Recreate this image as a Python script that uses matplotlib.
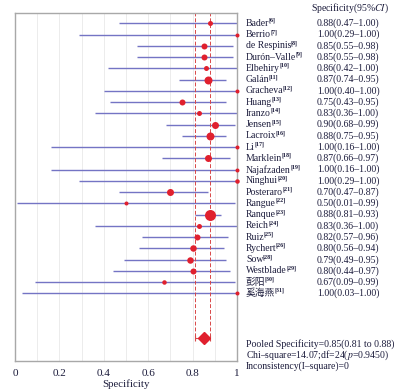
import matplotlib
matplotlib.use("Agg")
import matplotlib.pyplot as plt
import matplotlib.transforms as mtransforms
import numpy as np

plt.rcParams["font.family"] = ["Liberation Serif", "Noto Sans CJK SC"]
plt.rcParams["mathtext.fontset"] = "stix"

# ── Data ──────────────────────────────────────────────────────────────────────
studies = ["Bader", "Berrio", "de Respinis", "Durón–Valle", "Elbehiry", "Galán",
           "Gracheva", "Huang", "Iranzo", "Jensen", "Lacroix", "Li", "Marklein",
           "Najafzaden", "Ninghui", "Posteraro", "Rangue", "Ranque", "Reich",
           "Ruiz", "Rychert", "Sow", "Westblade", "彭阳", "奚海燕"]
refs = [6, 7, 8, 9, 10, 11, 12, 13, 14, 15, 16, 17, 18, 19, 20, 21, 22, 23,
        24, 25, 26, 28, 29, 30, 31]
spec = [0.88, 1.00, 0.85, 0.85, 0.86, 0.87, 1.00, 0.75, 0.83, 0.90, 0.88, 1.00,
        0.87, 1.00, 1.00, 0.70, 0.50, 0.88, 0.83, 0.82, 0.80, 0.79, 0.80, 0.67, 1.00]
ci_lo = [0.47, 0.29, 0.55, 0.55, 0.42, 0.74, 0.40, 0.43, 0.36, 0.68, 0.75, 0.16,
         0.66, 0.16, 0.29, 0.47, 0.01, 0.81, 0.36, 0.57, 0.56, 0.49, 0.44, 0.09, 0.03]
ci_hi = [1.00, 1.00, 0.98, 0.98, 1.00, 0.95, 1.00, 0.95, 1.00, 0.99, 0.95, 1.00,
         0.97, 1.00, 1.00, 0.87, 0.99, 0.93, 1.00, 0.96, 0.94, 0.95, 0.97, 0.99, 1.00]
# relative study weight
weight = [5, 4, 6, 6, 5, 8, 4, 6, 5, 7, 8, 4, 7, 4, 4.5, 7, 4, 11, 5, 6, 6.5,
          6.5, 6, 4.5, 4]

pooled, pooled_lo, pooled_hi = 0.85, 0.81, 0.88
chi2, df, pval, i2 = 14.07, 24, 0.9450, 0

# ── Style ─────────────────────────────────────────────────────────────────────
TXT = "#1c1c3c"
RED = "#e0202e"
LINE = "#7474c4"
FS = 7.0

fig = plt.figure(figsize=(4.04, 3.90), dpi=100)
ax = fig.add_axes([15 / 404, 1 - 361 / 390, 222 / 404, 348 / 390])

n = len(studies)
rows = np.arange(n)
pooled_row = n + 3

# grid
ax.set_xticks(np.arange(0, 1.01, 0.2))
ax.set_xticks(np.arange(0.1, 1.0, 0.2), minor=True)
ax.set_xticklabels(["0", "0.2", "0.4", "0.6", "0.8", "1"], fontsize=8, color=TXT)
ax.grid(True, axis="x", which="both", color="#ececec", linewidth=0.7, zorder=0)
ax.tick_params(axis="x", which="both", length=0, pad=6)
ax.set_yticks([])
for spine in ax.spines.values():
    spine.set_edgecolor("#a8a8a8")
    spine.set_linewidth(1.0)

# CI lines and points
ax.hlines(rows, ci_lo, ci_hi, color=LINE, linewidth=1.0, zorder=2)
for r, s, w in zip(rows, spec, weight):
    ax.plot(s, r, "o", color=RED, markersize=w * 0.72, markeredgewidth=0,
            zorder=3, clip_on=False)

# pooled estimate
ax.vlines([pooled_lo, pooled_hi], -1, pooled_row, color="#d84848",
          linewidth=0.7, linestyles=(0, (4, 2)), zorder=2)
ax.errorbar(pooled, pooled_row, xerr=[[pooled - pooled_lo], [pooled_hi - pooled]],
            fmt="D", color=RED, markersize=6, ecolor="#d84848", elinewidth=0.8,
            capsize=2.5, capthick=0.8, zorder=4)

ax.set_xlim(0, 1)
ax.set_ylim(30.0, -0.92)
ax.set_xlabel("Specificity", fontsize=7.8, color=TXT, labelpad=1)

# right-hand text
trans = mtransforms.blended_transform_factory(ax.transAxes, ax.transData)
for r, name, ref, s, lo, hi in zip(rows, studies, refs, spec, ci_lo, ci_hi):
    t = ax.text(1.04, r, name, transform=trans, fontsize=FS,
                color=TXT, va="center", ha="left", clip_on=False)
    ax.annotate(f"[{ref}]", xy=(1.0, 0.5), xycoords=t, xytext=(-0.4, 0),
                textcoords="offset points", fontsize=4.3, fontweight="bold",
                color=TXT, va="bottom", ha="left", annotation_clip=False)
    ax.text(1.36, r, f"{s:.2f}({lo:.2f}–{hi:.2f})", transform=trans,
            fontsize=FS, color=TXT, va="center", ha="left", clip_on=False)
ax.text(1.333, -1.3, "Specificity(95%$\\it{CI}$)", transform=trans, fontsize=FS,
        color=TXT, va="center", ha="left", clip_on=False)

footer = [f"Pooled Specificity={pooled:.2f}({pooled_lo:.2f} to {pooled_hi:.2f})",
          f"Chi–square={chi2:.2f};df={df}($\\it{{p}}$={pval:.4f})",
          f"Inconsistency(I–square)={i2}"]
for k, line in enumerate(footer):
    ax.text(1.04, 28.5 + k, line, transform=trans, fontsize=FS, color=TXT,
            va="center", ha="left", clip_on=False)

plt.savefig("out.png", dpi=100, facecolor="white")
plt.close()
